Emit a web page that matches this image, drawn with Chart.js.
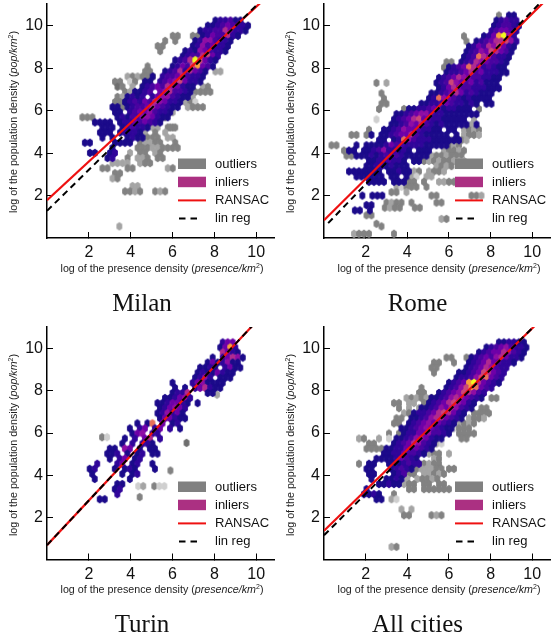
<!DOCTYPE html>
<html>
<head>
<meta charset="utf-8">
<script src="https://cdn.jsdelivr.net/npm/chart.js@4"></script>
<style>
  html, body { margin: 0; padding: 0; background: #fff; }
  canvas { position: absolute; }
</style>
</head>
<body>
<script>
// hex bins are read off the picture, one row each: [y, first x, levels]
// levels: one char per bin, '.' = empty bin
const hexStep = 0.24;
const tickValues = [2, 4, 6, 8, 10];
const legendLabels = ['outliers', 'inliers', 'RANSAC', 'lin reg'];

// plasma steps for the inliers, grey steps for the outliers
const inlierColors = ['#1b0a8a', '#30059a', '#4903a0', '#6e00a8', '#8f0da4', '#b02a90', '#cc4778', '#e8705a', '#f9a03c', '#f0f921'];
const outlierColors = ['#555555', '#6e6e6e', '#828282', '#a4a4a4', '#cfcfcf'];

const milanInliers = [
  [10.25, 8.05, '011200'], [10.01, 7.69, '001232110'], [9.77, 7.33, '0112253110'], [9.53, 7.45, '01322510'],
  [9.29, 7.09, '01442110'], [9.05, 6.97, '01423110'], [8.81, 6.61, '010432110'], [8.57, 6.49, '01225631'],
  [8.38, 6.13, '012596310'], [8.09, 6.01, '013268320'], [7.85, 5.65, '012515320'], [7.61, 5.05, '0.122352110'],
  [7.37, 4.69, '00.123463110'], [7.13, 4.57, '01232543100'], [6.89, 4.21, '0012.3452210'], [6.65, 3.85, '0101.13442100'],
  [6.41, 3.73, '012132543110'], [6.17, 3.13, '00.01223532100'], [5.93, 3.25, '00.123342110'], [5.69, 3.37, '01022443100'],
  [5.45, 2.29, '0000'], [5.45, 3.49, '011323210'], [5.21, 2.65, '000'], [5.21, 3.61, '012110'],
  [4.97, 2.53, '000'], [4.97, 3.49, '01110'], [4.73, 2.65, '0.0'], [4.73, 3.85, '0100'],
  [4.49, 1.81, '00'], [4.49, 3.25, '0000'], [4.25, 3.13, '0'], [4.01, 2.05, '00'], [4.01, 3.01, '01'], [3.77, 2.89, '01']
];
const milanOutliers = [
  [9.53, 6.01, '22'], [9.53, 6.97, '22'], [9.29, 5.65, '2'], [9.29, 6.13, '2'], [9.05, 5.29, '22'], [8.81, 5.41, '2'],
  [8.09, 4.81, '2'], [7.85, 4.69, '22'], [7.85, 8.05, '33'], [7.61, 3.85, '323222'], [7.37, 3.25, '22.42.22'],
  [7.13, 3.37, '12.3.22'], [7.13, 7.45, '32'], [6.89, 3.73, '23'], [6.89, 7.09, '22'], [6.89, 7.57, '22'],
  [6.65, 3.37, '23'], [6.65, 6.73, '23'], [6.41, 3.25, '2222'], [6.41, 6.61, '324'], [6.17, 3.37, '22'], [6.17, 6.73, '3222'],
  [5.93, 6.01, '3'], [5.69, 1.69, '222'], [5.69, 5.65, '2'], [5.45, 5.17, '34'], [5.21, 5.05, '33.22'], [5.21, 5.89, '22'],
  [4.97, 4.69, '3.2.3'], [4.73, 4.81, '222.33'], [4.49, 4.45, '23322'], [4.49, 6.13, '2'], [4.25, 4.33, '2223322'],
  [4.25, 6.01, '22'], [4.01, 3.97, '3.22.32'], [3.77, 3.85, '2.332.22'], [3.53, 3.13, '3333'], [3.53, 4.45, '322'],
  [3.29, 2.65, '22'], [3.29, 3.85, '22'], [3.29, 5.77, '32'], [3.05, 3.25, '22'], [2.81, 3.13, '32'],
  [2.45, 4.09, '33'], [2.2, 3.73, '2232'], [2.2, 5.17, '232'], [0.55, 3.46, '3']
];
const milanRansacX = [0, 11];
const milanRansacY = [1.78, 11.81];
const milanLinregX = [0, 11];
const milanLinregY = [1.28, 11.92];

const romeInliers = [
  [10.49, 8.88, '00'], [10.25, 8.28, '01211'], [10.0, 8.16, '012210'], [9.76, 8.04, '123321'], [9.51, 7.68, '0138941'],
  [9.27, 7.32, '012355641'], [9.02, 6.96, '0132546310'], [8.78, 6.84, '0124365320'], [8.53, 6.72, '0127542110'],
  [8.29, 6.6, '0125432210'], [8.04, 6.0, '012375312100'], [7.8, 5.88, '0112352311100'], [7.55, 5.52, '0123543221100'],
  [7.31, 5.4, '0126432312000'], [7.06, 5.52, '0135322111000'], [6.82, 5.16, '0012353121000'], [6.57, 5.04, '0174321010000'],
  [6.33, 4.68, '001123211010.00'], [6.08, 4.08, '0011232011000'], [5.84, 3.48, '00123442110000000'], [5.59, 3.36, '012356321100000'],
  [5.35, 3.24, '0012435210100000'], [5.35, 7.32, '0'], [5.1, 2.88, '001243321100.00'], [4.86, 2.28, '0.00123352100000.0'],
  [4.61, 2.64, '00.01742111000000'], [4.37, 1.56, '0.00001322111100000'], [4.12, 1.2, '00.0012411010.000'],
  [3.88, 1.56, '000101212100000'], [3.63, 2.16, '00112110.00'], [3.39, 2.04, '001101000'], [3.14, 1.2, '0000000.00100'],
  [2.9, 1.56, '000000.00.0'], [2.65, 2.16, '0000.000'], [2.0, 1.84, '0.000'], [1.55, 2.04, '00'], [1.3, 1.48, '00.0']
];
const romeOutliers = [
  [10.49, 8.4, '2'], [9.51, 6.72, '2'], [9.27, 6.84, '2'], [8.29, 5.88, '22'], [8.04, 5.76, '2'], [7.31, 2.52, '2.3'],
  [6.82, 2.76, '2'], [6.57, 2.88, '2'], [6.33, 2.76, '22'], [6.33, 7.32, '2'], [6.08, 2.64, '2'], [6.08, 3.84, '2'],
  [6.08, 7.44, '2'], [5.59, 2.52, '4'], [5.59, 7.2, '3'], [5.35, 7.08, '34'], [5.1, 2.16, '2'], [5.1, 6.72, '3232'],
  [4.86, 1.32, '22.2'], [4.86, 6.72, '3223'], [4.61, 6.12, '3223'], [4.37, 0.36, '22'], [4.37, 6.0, '232'],
  [4.12, 0.96, '2.2'], [4.12, 5.76, '32232'], [3.88, 1.08, '22'], [3.88, 5.16, '3223222'], [3.63, 4.8, '232322333'],
  [3.39, 5.4, '3232'], [3.14, 4.32, '32.3223'], [2.9, 4.2, '34.33'], [2.65, 4.08, '22.2..3322'], [2.41, 3.48, '34222.2'],
  [2.16, 3.24, '22.3'], [2.0, 5.16, '22'], [2.0, 7.08, '223'], [1.67, 3.0, '2322.2'], [1.67, 5.4, '22'], [1.43, 2.92, '2322'],
  [1.43, 4.36, '22'], [1.07, 2.04, '22'], [0.9, 5.64, '32'], [0.67, 2.52, '2'], [0.55, 2.76, '2'], [0.2, 1.44, '3222'], [0.2, 3.36, '2']
];
const romeRansacX = [0, 11];
const romeRansacY = [0.84, 11.55];
const romeLinregX = [0.2, 11];
const romeLinregY = [0.7, 11.72];

const turinInliers = [
  [10.3, 8.4, '133'], [10.06, 8.28, '0381'], [9.82, 8.4, '5310'], [9.58, 7.92, '0.13540'], [9.34, 7.68, '0301400'],
  [9.1, 7.32, '0010.1300'], [8.86, 7.2, '01003100'], [8.62, 7.08, '0141.000'], [8.38, 6.0, '0'], [8.38, 6.96, '13400'],
  [8.38, 8.16, '00'], [8.14, 6.12, '0.0.135100'], [7.9, 6.0, '0115'], [7.9, 7.68, '00'], [7.66, 5.64, '001341'],
  [7.42, 5.28, '0013310.0'], [7.18, 5.4, '013431'], [6.94, 5.28, '014130'], [6.7, 5.4, '033100'], [6.46, 4.32, '0.07.3.01'],
  [6.22, 3.96, '0.13.13.1.0'], [5.98, 3.84, '.034.11'], [5.74, 3.72, '0.1.35.1'], [5.5, 3.6, '0.1.110.'], [5.26, 3.0, '00.43.0.00'],
  [5.02, 2.88, '0'], [5.02, 3.12, '01.0.01.00'], [4.78, 3.0, '0.13.01'], [4.54, 2.4, '1'], [4.54, 3.12, '.13.01'], [4.54, 5.04, '0'],
  [4.3, 2.04, '01'], [4.3, 3.24, '0.010'], [4.3, 5.16, '0'], [4.06, 2.16, '0'], [4.06, 3.6, '0.01'], [3.82, 2.28, '0'],
  [3.82, 3.96, '0'], [3.58, 3.36, '00'], [3.34, 3.24, '01'], [3.1, 3.36, '1'], [2.86, 2.52, '00']
];
const turinOutliers = [
  [7.82, 8.13, '3'], [5.8, 2.63, '24'], [5.53, 6.67, '1'], [4.22, 5.9, '2'], [3.48, 4.36, '43'], [3.48, 5.13, '244'], [2.96, 4.43, '2']
];
const turinRansacX = [0, 11];
const turinRansacY = [0.68, 12.34];
const turinLinregX = [0, 11];
const turinLinregY = [0.68, 12.34];

const allInliers = [
  [10.3, 8.4, '001100'], [10.06, 7.8, '012342110'], [9.82, 7.44, '0123354210'], [9.58, 7.08, '01232453110'], [9.34, 6.96, '0123532110'],
  [9.1, 6.84, '012354211'], [8.86, 6.48, '0012365321'], [8.62, 6.36, '0112467321'], [8.38, 6.0, '01238953210'], [8.14, 5.88, '0124687321'],
  [7.9, 5.52, '0123465421'], [7.66, 5.16, '00124543210'], [7.42, 5.04, '0123564310'], [7.18, 4.68, '00124354210'], [6.94, 4.32, '01123565310'],
  [6.7, 4.2, '00124553210'], [6.46, 4.08, '0123433210'], [6.22, 3.72, '00123432100'], [5.98, 3.84, '0113342210'], [5.74, 3.48, '0012443100'],
  [5.5, 3.36, '012354210'], [5.26, 3.0, '0011323210'], [5.02, 2.88, '001132210'], [4.78, 2.52, '0'], [4.78, 2.76, '00013210'],
  [4.54, 2.16, '00'], [4.54, 3.12, '0001211'], [4.3, 2.04, '00'], [4.3, 3.24, '01210'], [4.06, 2.16, '00'], [4.06, 3.36, '012'],
  [3.82, 2.28, '0'], [3.82, 3.0, '0010'], [3.58, 2.64, '00100'], [3.34, 2.04, '0'], [3.1, 1.92, '0010'], [2.86, 2.52, '00']
];
const allOutliers = [
  [9.58, 5.88, '22'], [9.58, 6.84, '22'], [9.34, 5.28, '22'], [9.34, 6.24, '2'], [9.1, 5.16, '22'], [8.86, 5.28, '2'],
  [8.14, 4.68, '2'], [7.9, 4.56, '22'], [7.66, 3.96, '3232322'], [7.66, 8.04, '22'], [7.42, 3.36, '22.33.222'], [7.18, 3.6, '2.3.3222'],
  [7.18, 7.56, '22'], [6.94, 3.84, '32'], [6.94, 7.2, '2222'], [6.7, 3.48, '22'], [6.7, 6.96, '3223'], [6.46, 3.36, '22'], [6.46, 6.48, '3232'],
  [6.22, 6.24, '4222'], [5.98, 3.12, '2.2'], [5.98, 6.48, '2222'], [5.74, 1.68, '32'], [5.74, 2.64, '3'], [5.74, 3.12, '4'], [5.74, 6.6, '22'],
  [5.5, 2.16, '22'], [5.5, 5.4, '34'], [5.26, 2.04, '2222'], [5.26, 5.16, '3'], [5.02, 5.04, '322.3'], [4.78, 5.28, '32'], [4.54, 1.68, '2'],
  [4.54, 4.56, '32322'], [4.3, 4.2, '3233322'], [4.3, 6.0, '22'], [4.06, 4.08, '22.33232'], [3.82, 4.0, '3.32232'], [3.58, 3.84, '322.22.22'],
  [3.34, 4.08, '22.222'], [3.34, 5.52, '222'], [3.1, 3.36, '2'], [2.86, 3.24, '34'], [2.38, 3.72, '3.3'], [2.1, 3.84, '22'], [2.1, 5.16, '232'], [0.6, 3.24, '32']
];
const allRansacX = [0, 11];
const allRansacY = [1.36, 11.93];
const allLinregX = [0, 11];
const allLinregY = [1.15, 11.96];

// one hexagon picture per colour, used as the point style of the bins
const hexImages = {};
function hexImage(color) {
  if (hexImages[color]) return hexImages[color];
  const c = document.createElement('canvas');
  c.width = 8;
  c.height = 10;
  const g = c.getContext('2d');
  g.fillStyle = color;
  g.beginPath();
  g.moveTo(4, 0.8);
  g.lineTo(6.9, 2.8);
  g.lineTo(6.9, 7.2);
  g.lineTo(4, 9.2);
  g.lineTo(1.1, 7.2);
  g.lineTo(1.1, 2.8);
  g.closePath();
  g.fill();
  hexImages[color] = c;
  return c;
}

function binPoints(rows, colors) {
  const pts = [];
  rows.forEach(function (row) {
    for (let i = 0; i < row[2].length; i++) {
      if (row[2][i] === '.') continue;
      pts.push({ x: row[1] + i * hexStep, y: row[0], color: colors[+row[2][i]] });
    }
  });
  return pts;
}

function linePoints(xs, ys) {
  return xs.map(function (x, i) { return { x: x, y: ys[i] }; });
}

function drawRuns(ctx, runs, cx, cy, angle) {
  ctx.save();
  ctx.translate(cx, cy);
  ctx.rotate(angle);
  ctx.fillStyle = '#222';
  ctx.textBaseline = 'alphabetic';
  ctx.textAlign = 'left';
  const fontOf = function (r) {
    return (r.italic ? 'italic ' : '') + (r.sup ? 7 : 10.7) + 'px "Liberation Sans"';
  };
  let total = 0;
  runs.forEach(function (r) { ctx.font = fontOf(r); total += ctx.measureText(r.text).width; });
  let x = -total / 2;
  runs.forEach(function (r) {
    ctx.font = fontOf(r);
    ctx.fillText(r.text, x, r.sup ? -1 : 3);
    x += ctx.measureText(r.text).width;
  });
  ctx.restore();
}

const xTitleRuns = [{ text: 'log of the presence density (' }, { text: 'presence/km', italic: true }, { text: '2', sup: true }, { text: ')' }];
const yTitleRuns = [{ text: 'log of the population density (' }, { text: 'pop/km', italic: true }, { text: '2', sup: true }, { text: ')' }];

const panelPlugin = {
  id: 'panelExtras',
  afterDraw: function (chart) {
    const ctx = chart.ctx, a = chart.chartArea;
    drawRuns(ctx, xTitleRuns, a.left + 115, a.bottom + 30.5, 0);
    drawRuns(ctx, yTitleRuns, a.left - 33, a.top + 118, -Math.PI / 2);

    // legend stays inside the plot, without a frame
    const bx = a.left + 131, by = a.top + 160;
    ctx.save();
    ctx.font = '13px "Liberation Sans"';
    ctx.textBaseline = 'middle';
    ctx.fillStyle = '#111';
    legendLabels.forEach(function (label, i) {
      ctx.fillText(label, bx + 37, by + i * 18.2);
    });
    ctx.fillStyle = '#808080';
    ctx.fillRect(bx, by - 5.5, 28, 10.5);
    ctx.fillStyle = '#ab3082';
    ctx.fillRect(bx, by + 18.2 - 5.5, 28, 10.5);
    ctx.lineWidth = 2;
    ctx.strokeStyle = '#ee1111';
    ctx.beginPath();
    ctx.moveTo(bx, by + 36.4);
    ctx.lineTo(bx + 28, by + 36.4);
    ctx.stroke();
    ctx.strokeStyle = '#000';
    ctx.setLineDash([6.5, 5]);
    ctx.beginPath();
    ctx.moveTo(bx + 1, by + 54.6);
    ctx.lineTo(bx + 21, by + 54.6);
    ctx.stroke();
    ctx.restore();
  }
};

function zeroPadding(s) {
  s.paddingTop = 0;
  s.paddingBottom = 0;
  s.paddingLeft = 0;
  s.paddingRight = 0;
}

function makePanel(p) {
  const canvas = document.createElement('canvas');
  canvas.width = p.w;
  canvas.height = p.h;
  canvas.style.left = p.left + 'px';
  canvas.style.top = p.top + 'px';
  canvas.style.width = p.w + 'px';
  canvas.style.height = p.h + 'px';
  document.body.appendChild(canvas);

  const inl = binPoints(p.inliers, inlierColors);
  const out = binPoints(p.outliers, outlierColors);

  new Chart(canvas.getContext('2d'), {
    type: 'scatter',
    plugins: [panelPlugin],
    data: {
      datasets: [
        { label: 'lin reg', data: linePoints(p.linregX, p.linregY), showLine: true, borderColor: '#000', borderWidth: 2, borderDash: [6.5, 4.5], pointRadius: 0 },
        { label: 'RANSAC', data: linePoints(p.ransacX, p.ransacY), showLine: true, borderColor: '#ee1111', borderWidth: 2.2, pointRadius: 0 },
        { label: 'inliers', data: inl, pointStyle: inl.map(function (d) { return hexImage(d.color); }), pointRadius: 3 },
        { label: 'outliers', data: out, pointStyle: out.map(function (d) { return hexImage(d.color); }), pointRadius: 3 }
      ]
    },
    options: {
      responsive: false,
      animation: false,
      layout: { autoPadding: false, padding: { left: 9, top: p.plotTop, right: 0, bottom: 0 } },
      plugins: {
        legend: { display: false },
        tooltip: { enabled: false },
        title: {
          display: true,
          text: p.name,
          position: 'bottom',
          color: '#111',
          font: { family: '"Liberation Serif"', size: 25, weight: 'normal', lineHeight: 1.2 },
          padding: { top: 0, bottom: 1 }
        }
      },
      scales: {
        x: {
          min: 0,
          max: 10.9,
          afterBuildTicks: function (s) { s.ticks = tickValues.map(function (v) { return { value: v }; }); },
          afterFit: function (s) { s.height = p.h - 31 - p.plotBottom; zeroPadding(s); },
          border: { color: '#000', width: 1.5 },
          grid: { drawOnChartArea: false, tickLength: -6, tickColor: '#000', tickWidth: 1 },
          ticks: { color: '#111', padding: 11, maxRotation: 0, font: { family: '"Liberation Sans"', size: 16 } }
        },
        y: {
          min: 0,
          max: 11.03,
          afterBuildTicks: function (s) { s.ticks = tickValues.map(function (v) { return { value: v }; }); },
          afterFit: function (s) { s.width = p.plotLeft - 9; zeroPadding(s); },
          border: { color: '#000', width: 1.5 },
          grid: { drawOnChartArea: false, tickLength: -6, tickColor: '#000', tickWidth: 1 },
          ticks: { color: '#111', padding: 10, font: { family: '"Liberation Sans"', size: 16 } }
        }
      }
    }
  });
}

makePanel({ name: 'Milan', left: 0, top: 0, w: 275, h: 320, plotLeft: 47, plotTop: 4, plotBottom: 238,
  inliers: milanInliers, outliers: milanOutliers, ransacX: milanRansacX, ransacY: milanRansacY, linregX: milanLinregX, linregY: milanLinregY });
makePanel({ name: 'Rome', left: 275, top: 0, w: 276, h: 320, plotLeft: 49, plotTop: 4, plotBottom: 238,
  inliers: romeInliers, outliers: romeOutliers, ransacX: romeRansacX, ransacY: romeRansacY, linregX: romeLinregX, linregY: romeLinregY });
makePanel({ name: 'Turin', left: 0, top: 320, w: 275, h: 321, plotLeft: 47, plotTop: 7, plotBottom: 239.5,
  inliers: turinInliers, outliers: turinOutliers, ransacX: turinRansacX, ransacY: turinRansacY, linregX: turinLinregX, linregY: turinLinregY });
makePanel({ name: 'All cities', left: 275, top: 320, w: 276, h: 321, plotLeft: 49, plotTop: 7, plotBottom: 239.5,
  inliers: allInliers, outliers: allOutliers, ransacX: allRansacX, ransacY: allRansacY, linregX: allLinregX, linregY: allLinregY });
</script>
</body>
</html>
